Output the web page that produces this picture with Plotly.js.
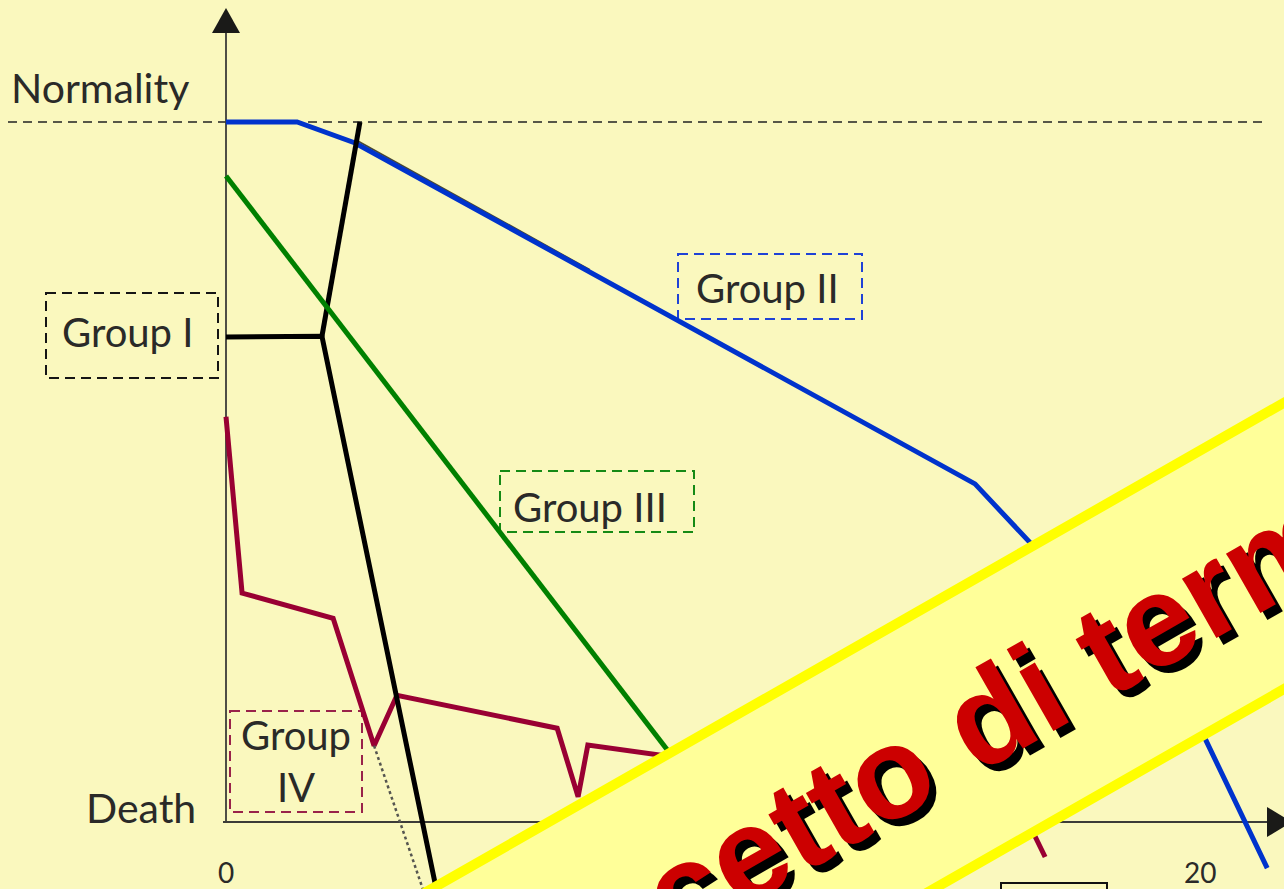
<!DOCTYPE html>
<html>
<head>
<meta charset="utf-8">
<script src="https://cdn.plot.ly/plotly-3.0.1.min.js"></script>
<style>
  html, body { margin: 0; padding: 0; background: #FAF8BE; }
  #chart { width: 1284px; height: 889px; }
</style>
</head>
<body>
<div id="chart"></div>
<script>
// Course of illness: time on x, condition on y (0 = death, 100 = normality)

// Group II: long plateau, then a slow decline that steepens at the end
const groupII_t = [0, 1.46, 2.65, 15.38, 19.92, 21.38];
const groupII_v = [100, 100, 97.0, 48.3, 14.6, -6.6];
// thin dark edge along the upper side of the early Group II decline
const groupIIEdge_t = [2.65, 7.47];
const groupIIEdge_v = [97.5, 78.86];

// Group I: stable level, then either a return to normality or a rapid fall
const groupI_t = [0, 1.97, 4.39];
const groupI_v = [69.3, 69.4, -12];
const groupIRecovery_t = [1.97, 2.75];
const groupIRecovery_v = [69.4, 100];

// Group III: steady linear decline
const groupIII_t = [0, 10.2];
const groupIII_v = [92.3, 0];

// Group IV: low level with repeated crises and partial recoveries
const groupIV_t = [0, 0.33, 2.20, 3.04, 3.51, 6.80, 7.23, 7.43, 16.30, 16.82];
const groupIV_v = [57.9, 32.7, 29.1, 10.9, 18.1, 13.4, 3.6, 11.0, 2.4, -5.0];
// sudden death branching off the first Group IV crisis
const groupIVDeath_t = [3.04, 4.16];
const groupIVDeath_v = [10.9, -12];

// reference levels and tick labels
const levelNames = ['Normality', 'Death'];
const levelValues = [100, 0];
const tickValues = [0, 20];
const tickLabels = ['0', '20'];

// ---- layout geometry (pixels of the 1284 x 889 page) ----
const W = 1284, H = 889;
const ORIGIN = { x: 226, y: 822 };      // where the two axes meet
const PX_PER_T = 48.7, PX_PER_V = 7;    // scale of each axis
const tOf = px => (px - ORIGIN.x) / PX_PER_T;
const vOf = py => (ORIGIN.y - py) / PX_PER_V;

const BG = '#FAF8BE';
const INK = '#2a2a28';
const AXIS = '#3c3c38';
const LABEL_FONT = 'Lato, "Open Sans", sans-serif';

const traces = [
  { x: groupIIEdge_t, y: groupIIEdge_v, mode: 'lines', line: { color: '#4a4a32', width: 2 }, hoverinfo: 'skip' },
  { name: 'Group II', x: groupII_t, y: groupII_v, mode: 'lines', line: { color: '#0033CC', width: 5 } },
  { name: 'Group IV', x: groupIV_t, y: groupIV_v, mode: 'lines', line: { color: '#990033', width: 5 } },
  { x: groupIVDeath_t, y: groupIVDeath_v, mode: 'lines', line: { color: '#555550', width: 2.5, dash: 'dot' } },
  { name: 'Group I', x: groupI_t, y: groupI_v, mode: 'lines', line: { color: '#000000', width: 5 } },
  { x: groupIRecovery_t, y: groupIRecovery_v, mode: 'lines', line: { color: '#000000', width: 5 } },
  { name: 'Group III', x: groupIII_t, y: groupIII_v, mode: 'lines', line: { color: '#008000', width: 5 } }
];

const shapes = [];
const annotations = [];

// normality reference line
shapes.push({ type: 'line', xref: 'x', yref: 'y', layer: 'below',
  x0: tOf(8), x1: tOf(1265), y0: levelValues[0], y1: levelValues[0],
  line: { color: '#222', width: 1.5, dash: '9px,6px' } });

// axes with filled arrowheads
const yTopPx = 33, yTipPx = 8, xEndPx = 1267, xTipPx = 1292;
shapes.push({ type: 'line', xref: 'x', yref: 'y', layer: 'below',
  x0: 0, x1: 0, y0: 0, y1: vOf(yTopPx), line: { color: AXIS, width: 1.8 } });
shapes.push({ type: 'line', xref: 'x', yref: 'y', layer: 'below',
  x0: tOf(223), x1: tOf(xEndPx), y0: 0, y1: 0, line: { color: AXIS, width: 1.8 } });
const headHalf = 14;
shapes.push({ type: 'path', xref: 'x', yref: 'y', layer: 'below',
  path: `M${tOf(ORIGIN.x - headHalf)},${vOf(yTopPx)} L${tOf(ORIGIN.x + headHalf)},${vOf(yTopPx)} L0,${vOf(yTipPx)} Z`,
  fillcolor: '#1a1a18', line: { width: 0 } });
shapes.push({ type: 'path', xref: 'x', yref: 'y', layer: 'below',
  path: `M${tOf(xEndPx)},${vOf(ORIGIN.y - headHalf - 1)} L${tOf(xEndPx)},${vOf(ORIGIN.y + headHalf + 1)} L${tOf(xTipPx)},0 Z`,
  fillcolor: '#1a1a18', line: { width: 0 } });

// level names at the left of the axis
annotations.push({ xref: 'x', yref: 'y', x: tOf(9), y: vOf(87), xanchor: 'left', yanchor: 'middle',
  text: levelNames[0], showarrow: false, font: { family: LABEL_FONT, size: 41, color: INK } });
annotations.push({ xref: 'x', yref: 'y', x: tOf(198), y: vOf(807), xanchor: 'right', yanchor: 'middle',
  text: levelNames[1], showarrow: false, font: { family: LABEL_FONT, size: 41, color: INK } });

// time tick labels
tickValues.forEach((t, i) => annotations.push({ xref: 'x', yref: 'y', x: t, y: vOf(872),
  xanchor: 'center', yanchor: 'middle', text: tickLabels[i], showarrow: false,
  font: { family: LABEL_FONT, size: 28, color: INK } }));

// group labels in dashed frames
const groupLabels = [
  { text: 'Group I',   box: [46, 293, 218, 378], at: [127, 332], color: '#151515' },
  { text: 'Group II',  box: [678, 254, 862, 319], at: [767, 288], color: '#1f42d6' },
  { text: 'Group III', box: [500, 471, 694, 532], at: [590, 507], color: '#158a15' },
  { text: 'Group<br>IV', box: [230, 711, 362, 812], at: [296, 761], color: '#99224a' }
];
groupLabels.forEach(g => {
  shapes.push({ type: 'rect', xref: 'x', yref: 'y', layer: 'below',
    x0: tOf(g.box[0]), x1: tOf(g.box[2]), y0: vOf(g.box[1]), y1: vOf(g.box[3]),
    line: { color: g.color, width: 2, dash: '10px,6px' }, fillcolor: 'rgba(0,0,0,0)' });
  annotations.push({ xref: 'x', yref: 'y', x: tOf(g.at[0]), y: vOf(g.at[1]),
    xanchor: 'center', yanchor: 'middle', text: g.text, showarrow: false,
    font: { family: LABEL_FONT, size: 40, color: INK } });
});
// frame of a further label running off the bottom edge
shapes.push({ type: 'rect', xref: 'x', yref: 'y', layer: 'below',
  x0: tOf(1001), x1: tOf(1107), y0: vOf(883), y1: vOf(960),
  line: { color: '#111', width: 2 }, fillcolor: 'rgba(0,0,0,0)' });

// diagonal banner across the lower right
const BANNER = { cx: 423, cy: 1037, angle: 29.7, halfWidth: 124.4, halfLength: 1900 };
(function () {
  const a = BANNER.angle * Math.PI / 180;
  const u = [Math.cos(a), -Math.sin(a)], n = [-Math.sin(a), -Math.cos(a)];
  const pts = [[-1, -1], [1, -1], [1, 1], [-1, 1]].map(([s, h]) => [
    BANNER.cx + s * BANNER.halfLength * u[0] + h * BANNER.halfWidth * n[0],
    BANNER.cy + s * BANNER.halfLength * u[1] + h * BANNER.halfWidth * n[1]
  ]);
  const path = 'M' + pts.map(p => (p[0] / W).toFixed(5) + ',' + (1 - p[1] / H).toFixed(5)).join(' L') + ' Z';
  shapes.push({ type: 'path', xref: 'paper', yref: 'paper', layer: 'above', path: path,
    fillcolor: '#FFFF99', line: { color: '#FFFF00', width: 10 } });
})();
const bannerText = '<b>Concetto di terminalità</b>';
const bannerCenter = [1045, 684];
[['#000000', 7, -7], ['#CC0000', 0, 0]].forEach(([c, xs, ys]) => annotations.push({
  xref: 'paper', yref: 'paper', x: bannerCenter[0] / W, y: 1 - bannerCenter[1] / H,
  xanchor: 'center', yanchor: 'middle', xshift: xs, yshift: ys,
  text: bannerText, textangle: -BANNER.angle, showarrow: false,
  font: { family: '"Liberation Sans", Arial, sans-serif', size: 130, color: c } }));

const layout = {
  width: W, height: H,
  margin: { l: 0, r: 0, t: 0, b: 0, pad: 0 },
  paper_bgcolor: BG, plot_bgcolor: BG,
  showlegend: false,
  xaxis: { range: [tOf(0), tOf(W)], visible: false, fixedrange: true },
  yaxis: { range: [vOf(H), vOf(0)], visible: false, fixedrange: true },
  shapes: shapes,
  annotations: annotations
};

Plotly.newPlot('chart', traces, layout, { staticPlot: true, displayModeBar: false });
</script>
</body>
</html>
